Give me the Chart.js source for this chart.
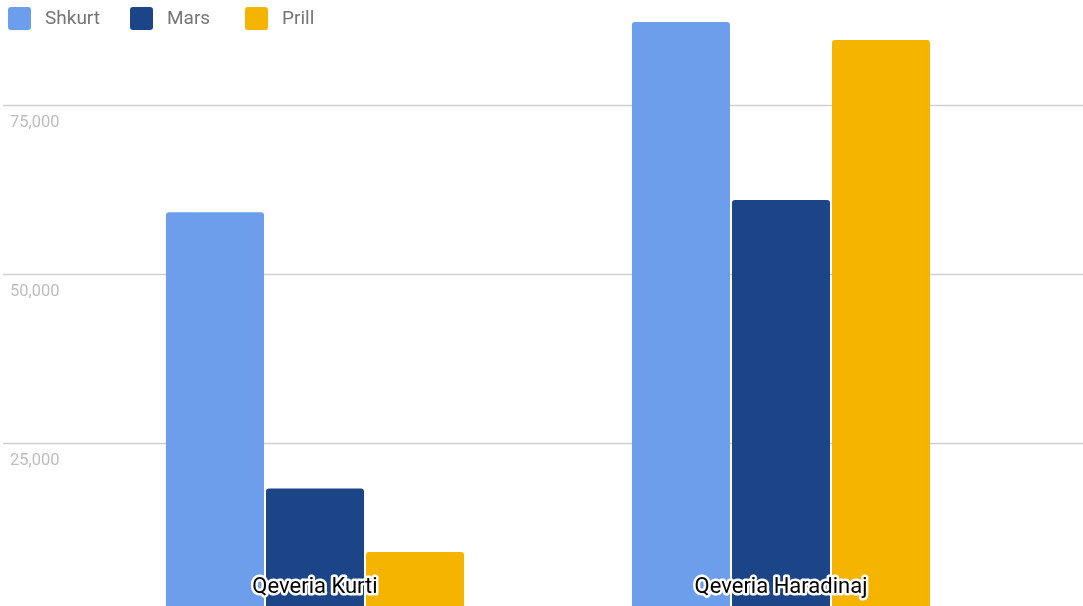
<!DOCTYPE html>
<html><head><meta charset="utf-8">
<script src="https://cdn.jsdelivr.net/npm/chart.js@4/dist/chart.umd.min.js"></script>
<style>html,body{margin:0;padding:0;background:#fff;}#wrap{width:1083px;height:606px;position:relative;}</style>
</head><body><div id="wrap"><canvas id="c"></canvas></div>
<script>
const categories = ["Qeveria Kurti", "Qeveria Haradinaj"];
const seriesNames = ["Shkurt", "Mars", "Prill"];
const shkurt = [59050, 87200];
const mars = [18200, 60870];
const prill = [8800, 84540];
const gridTicks = [25000, 50000, 75000];
const tickLabels = ["25,000", "50,000", "75,000"];
const colors = ["#6d9eeb", "#1c4587", "#f4b400"];

const FONT = "Roboto, 'Noto Sans', sans-serif";

const decorPlugin = {
  id: 'decor',
  beforeDatasetsDraw(chart) {
    const ctx = chart.ctx, y = chart.scales.y;
    ctx.save();
    ctx.strokeStyle = '#d0d0d0';
    ctx.lineWidth = 1.5;
    ctx.font = "16.5px " + FONT;
    ctx.fillStyle = '#bdbdbd';
    ctx.textBaseline = 'middle';
    ctx.textAlign = 'left';
    gridTicks.forEach((v, i) => {
      const py = Math.round(y.getPixelForValue(v)) + 0.5;
      ctx.beginPath(); ctx.moveTo(3, py); ctx.lineTo(chart.width, py); ctx.stroke();
      ctx.fillText(tickLabels[i], 10, py + 17);
    });
    ctx.restore();
  },
  afterDatasetsDraw(chart) {
    const ctx = chart.ctx, x = chart.scales.x;
    ctx.save();
    ctx.font = "22px " + FONT;
    ctx.textAlign = 'center';
    ctx.textBaseline = 'middle';
    ctx.lineJoin = 'round';
    categories.forEach((c, i) => {
      const px = x.getPixelForValue(i);
      ctx.strokeStyle = '#ffffff';
      ctx.lineWidth = 5;
      ctx.strokeText(c, px, 587);
      ctx.fillStyle = '#000000';
      ctx.fillText(c, px, 587);
    });
    const lx = [8, 130, 245];
    ctx.font = "19px " + FONT;
    ctx.textAlign = 'left';
    chart.data.datasets.forEach((ds, i) => {
      ctx.fillStyle = ds.backgroundColor;
      ctx.beginPath();
      ctx.roundRect(lx[i], 7, 23, 23, 3);
      ctx.fill();
      ctx.fillStyle = '#757575';
      ctx.fillText(ds.label, lx[i] + 37, 19);
    });
    ctx.restore();
  }
};

const valuesBySeries = [shkurt, mars, prill];
new Chart(document.getElementById('c'), {
  type: 'bar',
  data: {
    labels: categories,
    datasets: seriesNames.map((n, i) => ({
      label: n,
      data: valuesBySeries[i],
      backgroundColor: colors[i],
      borderWidth: 0,
      borderRadius: {topLeft: 3, topRight: 3, bottomLeft: 0, bottomRight: 0},
      borderSkipped: false,
      barPercentage: 0.98,
      categoryPercentage: 0.644
    }))
  },
  options: {
    responsive: true,
    maintainAspectRatio: false,
    animation: false,
    layout: {padding: {left: 82, right: 69, top: 0, bottom: 0}},
    plugins: {legend: {display: false}, tooltip: {enabled: false}},
    scales: {
      x: {display: false, offset: true},
      y: {display: false, min: 814, max: 90459}
    }
  },
  plugins: [decorPlugin]
});
</script>
</body></html>
